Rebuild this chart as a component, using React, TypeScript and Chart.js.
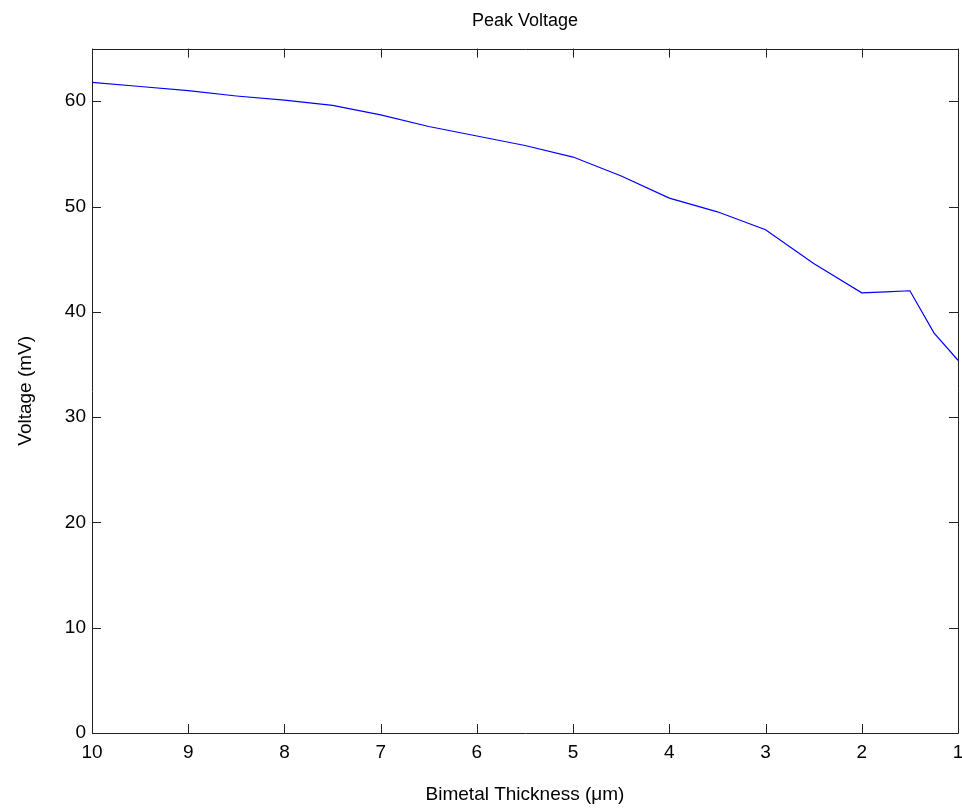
import React, { useEffect, useRef } from "react";
import { Chart, registerables } from "chart.js";

Chart.register(...registerables);

const thickness = [10, 9.5, 9, 8.5, 8, 7.5, 7, 6.5, 6, 5.5, 5, 4.5, 4, 3.5, 3, 2.5, 2, 1.75, 1.5, 1.25, 1];
const voltage = [61.8, 61.4, 61.0, 60.5, 60.1, 59.6, 58.7, 57.6, 56.7, 55.8, 54.7, 52.9, 50.8, 49.5, 47.8, 44.6, 41.8, 41.9, 42.0, 38.0, 35.4];
const xTicks = [10, 9, 8, 7, 6, 5, 4, 3, 2, 1];
const yTicks = [0, 10, 20, 30, 40, 50, 60];

const FONT = "'Liberation Sans', Arial, sans-serif";
const AXIS_COLOR = "#222222";
const FS = 19;

const boxPlugin = {
  id: "matlabBox",
  afterDraw(chart: any) {
    const { ctx, chartArea } = chart;
    const { left, right, top, bottom } = chartArea;
    const xs = chart.scales.x;
    const ys = chart.scales.y;
    const L = 9;
    ctx.save();
    ctx.strokeStyle = AXIS_COLOR;
    ctx.lineWidth = 1;
    ctx.beginPath();
    ctx.rect(Math.round(left) + 0.5, Math.round(top) + 0.5, Math.round(right - left), Math.round(bottom - top));
    for (const v of xTicks) {
      const px = Math.round(xs.getPixelForValue(v)) + 0.5;
      ctx.moveTo(px, bottom);
      ctx.lineTo(px, bottom - L);
      ctx.moveTo(px, top);
      ctx.lineTo(px, top + L);
    }
    for (const v of yTicks) {
      const py = Math.round(ys.getPixelForValue(v)) + 0.5;
      ctx.moveTo(left, py);
      ctx.lineTo(left + L, py);
      ctx.moveTo(right, py);
      ctx.lineTo(right - L, py);
    }
    ctx.stroke();
    ctx.restore();
  },
};

export default function App() {
  const ref = useRef<HTMLCanvasElement | null>(null);
  useEffect(() => {
    if (!ref.current) return;
    const chart = new Chart(ref.current, {
      type: "line",
      data: {
        datasets: [
          {
            data: thickness.map((t, i) => ({ x: t, y: voltage[i] })),
            borderColor: "#0000ff",
            borderWidth: 1.2,
            pointRadius: 0,
            tension: 0,
            fill: false,
          },
        ],
      },
      options: {
        animation: false,
        responsive: false,
        maintainAspectRatio: false,
        layout: { padding: { left: 0, right: 4, top: 0, bottom: 0 } },
        plugins: {
          legend: { display: false },
          tooltip: { enabled: false },
          title: {
            display: true,
            fullSize: false,
            text: "Peak Voltage",
            color: "#000",
            font: { family: FONT, size: 18, weight: "normal" },
            padding: { top: 10, bottom: 17 },
          },
        },
        scales: {
          x: {
            type: "linear",
            reverse: true,
            min: 1,
            max: 10,
            afterBuildTicks: (s: any) => {
              s.ticks = xTicks.map((v) => ({ value: v }));
            },
            afterFit: (s: any) => {
              s.height = 77;
              s.paddingLeft = 0;
              s.paddingRight = 0;
            },
            grid: { display: false, drawTicks: false },
            border: { display: false },
            ticks: {
              color: "#000",
              font: { family: FONT, size: FS },
              padding: 8,
              maxRotation: 0,
              autoSkip: false,
            },
            title: {
              display: true,
              text: "Bimetal Thickness (\u03bcm)",
              color: "#000",
              font: { family: FONT, size: FS },
              padding: { top: 4, bottom: 4 },
            },
          },
          y: {
            type: "linear",
            min: 0,
            max: 65,
            afterBuildTicks: (s: any) => {
              s.ticks = yTicks.map((v) => ({ value: v }));
            },
            afterFit: (s: any) => {
              s.width = 92;
              s.paddingTop = 0;
              s.paddingBottom = 0;
            },
            grid: { display: false, drawTicks: false },
            border: { display: false },
            ticks: {
              color: "#000",
              font: { family: FONT, size: FS },
              padding: 6,
              autoSkip: false,
            },
            title: {
              display: true,
              text: "Voltage (mV)",
              color: "#000",
              font: { family: FONT, size: FS },
              padding: { top: 14, bottom: 4 },
            },
          },
        },
      },
      plugins: [boxPlugin],
    });
    return () => chart.destroy();
  }, []);
  return (
    <div style={{ position: "absolute", left: 0, top: 0, width: 962, height: 810, background: "#fff" }}>
      <canvas ref={ref} width={962} height={810} style={{ width: 962, height: 810, display: "block" }} />
    </div>
  );
}
